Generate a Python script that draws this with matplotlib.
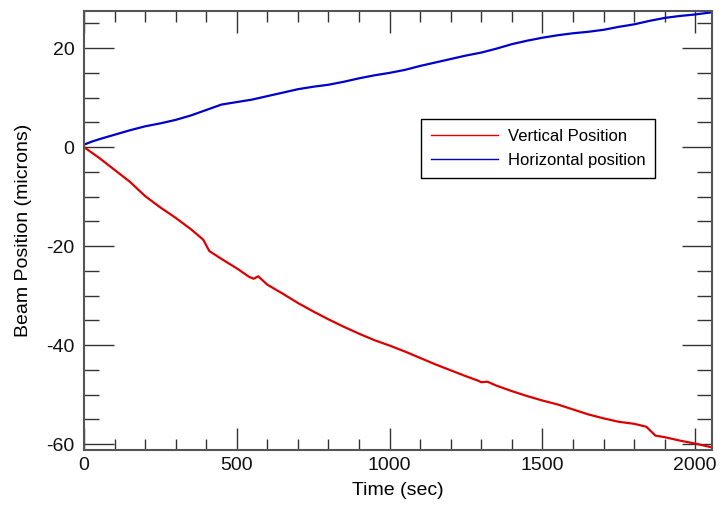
import matplotlib
matplotlib.use("Agg")
import matplotlib.pyplot as plt
from matplotlib.ticker import MultipleLocator

# values (time in sec, position in microns)
t_vert = [0, 50, 100, 150, 200, 250, 300, 350, 390, 410, 450, 500, 540, 555, 570,
          600, 650, 700, 750, 800, 850, 900, 950, 1000, 1050, 1100, 1150, 1200,
          1250, 1290, 1300, 1320, 1350, 1400, 1450, 1500, 1550, 1600, 1650, 1700,
          1750, 1800, 1840, 1855, 1870, 1900, 1950, 2000, 2050]
vert = [0.0, -2.2, -4.6, -7.0, -9.9, -12.2, -14.3, -16.6, -18.7, -21.0, -22.6,
        -24.5, -26.2, -26.6, -26.1, -27.8, -29.6, -31.5, -33.2, -34.8, -36.3,
        -37.7, -39.0, -40.1, -41.3, -42.6, -43.9, -45.1, -46.3, -47.2, -47.5,
        -47.4, -48.2, -49.3, -50.3, -51.2, -52.0, -53.0, -54.0, -54.8, -55.5,
        -55.9, -56.5, -57.4, -58.3, -58.6, -59.3, -59.9, -60.6]

t_horiz = [0, 25, 50, 100, 150, 200, 250, 300, 350, 400, 450, 500, 550, 600, 650,
           700, 750, 800, 850, 900, 950, 1000, 1050, 1100, 1150, 1200, 1250, 1300,
           1350, 1400, 1450, 1500, 1550, 1600, 1650, 1700, 1750, 1800, 1850, 1900,
           1950, 2000, 2050]
horiz = [0.5, 1.1, 1.6, 2.5, 3.4, 4.2, 4.8, 5.5, 6.4, 7.5, 8.6, 9.1, 9.6, 10.3,
         11.0, 11.7, 12.2, 12.6, 13.2, 13.9, 14.5, 15.0, 15.6, 16.4, 17.1, 17.8,
         18.5, 19.1, 19.9, 20.8, 21.5, 22.1, 22.6, 23.0, 23.3, 23.7, 24.3, 24.8,
         25.5, 26.1, 26.5, 26.8, 27.2]

plt.rcParams['font.family'] = ['Liberation Sans', 'DejaVu Sans']
plt.rcParams['axes.unicode_minus'] = False

fig = plt.figure(figsize=(7.23, 5.07), dpi=100)
ax = fig.add_axes([0.1162, 0.1124, 0.8686, 0.8659])

ax.plot(t_vert, vert, color='#dd0000', lw=1.6, label='Vertical Position')
ax.plot(t_horiz, horiz, color='#0000cc', lw=1.6, label='Horizontal position')

ax.set_xlim(0, 2055)
ax.set_ylim(-61.2, 27.5)

ax.xaxis.set_major_locator(MultipleLocator(500))
ax.xaxis.set_minor_locator(MultipleLocator(100))
ax.yaxis.set_major_locator(MultipleLocator(20))
ax.yaxis.set_minor_locator(MultipleLocator(5))

ax.tick_params(axis='both', which='both', direction='in', top=True, right=True,
               color='#333333', width=1, labelsize=14, labelcolor='#111111')
ax.tick_params(axis='x', which='major', length=16, pad=5)
ax.tick_params(axis='x', which='minor', length=8)
ax.tick_params(axis='y', which='major', length=21.5, pad=7)
ax.tick_params(axis='y', which='minor', length=10.8)

for s in ax.spines.values():
    s.set_color('#555555')
    s.set_linewidth(1.5)

ax.set_xlabel('Time (sec)', fontsize=14, labelpad=6)
ax.set_ylabel('Beam Position (microns)', fontsize=14)
ax.yaxis.set_label_coords(-0.083, 0.5)

leg = ax.legend(loc='center', bbox_to_anchor=(0.723, 0.687), fontsize=12,
                handlelength=4.0, handletextpad=0.6, labelspacing=0.55,
                borderpad=0.6, fancybox=False, framealpha=1)
leg.get_frame().set_edgecolor('black')
leg.get_frame().set_linewidth(1)
for ln in leg.get_lines():
    ln.set_linewidth(1.0)

fig.savefig('out.png', dpi=100)
